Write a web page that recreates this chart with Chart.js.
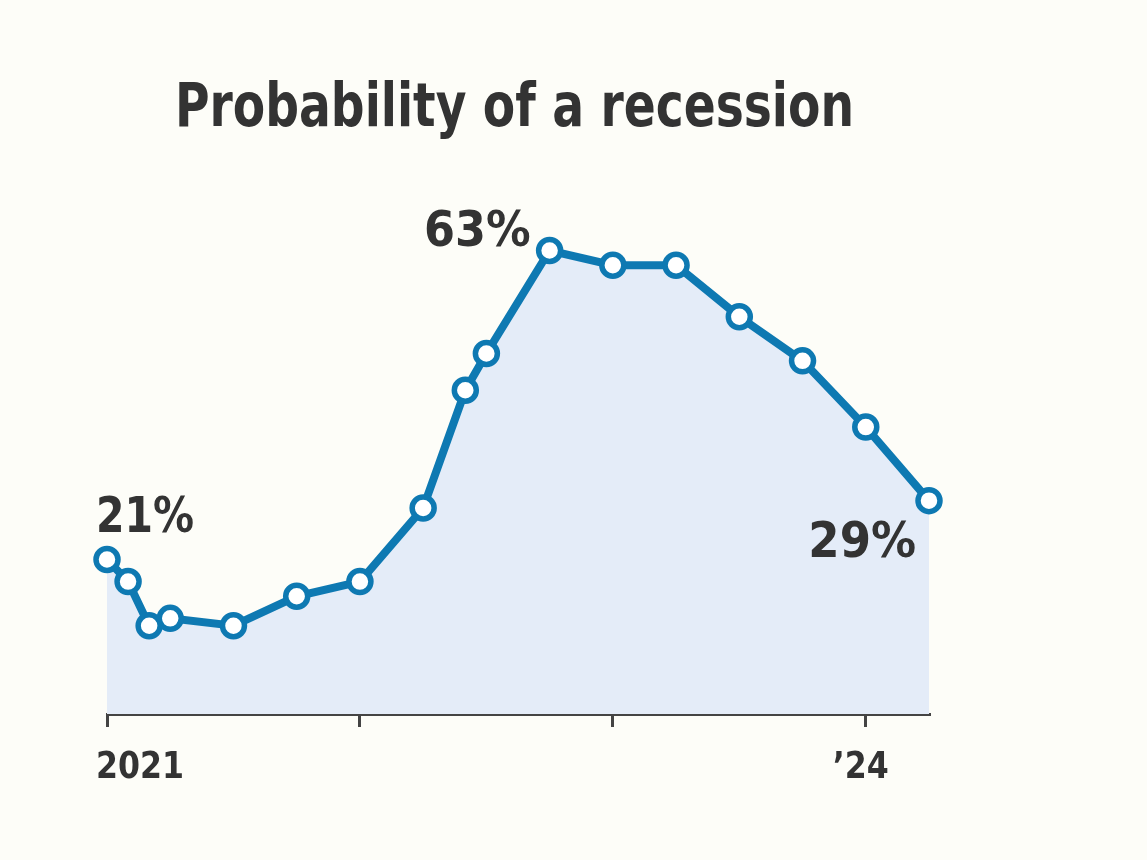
<!DOCTYPE html>
<html>
<head>
<meta charset="utf-8">
<title>Probability of a recession</title>
<script src="https://cdn.jsdelivr.net/npm/chart.js@4.4.1/dist/chart.umd.min.js"></script>
<style>
  html, body { margin: 0; padding: 0; background: #fdfdf8; }
  #wrap { width: 1147px; height: 860px; }
</style>
</head>
<body>
<div id="wrap"><canvas id="recessionChart"></canvas></div>
<script>
// Survey dates as fractional years, and probability in percent
const surveyDates = [
    2021 + 0/12, 2021 + 1/12, 2021 + 2/12, 2021 + 3/12, 2021 + 6/12, 2021 + 9/12,
    2022 + 0/12, 2022 + 3/12, 2022 + 5/12, 2022 + 6/12, 2022 + 9/12,
    2023 + 0/12, 2023 + 3/12, 2023 + 6/12, 2023 + 9/12,
    2024 + 0/12, 2024 + 3/12
];
const probability = [21, 18, 12, 13, 12, 16, 18, 28, 44, 49, 63, 61, 61, 54, 48, 39, 29];

const yearTicks = [2021, 2022, 2023, 2024];
const yearLabels = ['2021', '', '', '\u201924'];

// Point callouts: index into the series and label text
const calloutIndex = [0, 10, 16];
const calloutText = ['21%', '63%', '29%'];

const chartTitle = 'Probability of a recession';

const FONT = '"DejaVu Sans Condensed", "DejaVu Sans", sans-serif';
const INK = '#333333';
const BLUE = '#0e79b2';

// fillText squeezed horizontally to mimic the narrow newspaper face
function narrowText(ctx, text, x, y, align, squeeze) {
    const w = ctx.measureText(text).width * squeeze;
    let left = x;
    if (align === 'center') left = x - w / 2;
    if (align === 'right') left = x - w;
    ctx.save();
    ctx.translate(left, y);
    ctx.scale(squeeze, 1);
    ctx.textAlign = 'left';
    ctx.fillText(text, 0, 0);
    ctx.restore();
}

// Draws the title, the year labels under the axis and the % callouts
const labelPlugin = {
    id: 'labels',
    afterDatasetsDraw(chart) {
        const ctx = chart.ctx;
        const xScale = chart.scales.x;
        const points = chart.getDatasetMeta(0).data;
        ctx.save();
        ctx.fillStyle = INK;
        ctx.textBaseline = 'alphabetic';

        // title
        ctx.font = 'bold 60px ' + FONT;
        narrowText(ctx, chartTitle, 175, 126, 'left', 0.874);

        // year labels
        ctx.font = 'bold 38px ' + FONT;
        yearTicks.forEach((v, i) => {
            if (!yearLabels[i]) return;
            const px = xScale.getPixelForValue(v);
            if (i === 0) {
                narrowText(ctx, yearLabels[i], px - 11, 778, 'left', 0.925);
            } else {
                narrowText(ctx, yearLabels[i], px - 5, 778, 'center', 0.925);
            }
        });

        // callouts
        ctx.font = 'bold 50px ' + FONT;
        calloutIndex.forEach((idx, i) => {
            const p = points[idx];
            if (i === 0) {
                narrowText(ctx, calloutText[i], p.x - 11, p.y - 28, 'left', 0.91);
            } else if (i === 1) {
                narrowText(ctx, calloutText[i], p.x - 19, p.y - 5, 'right', 0.99);
            } else {
                narrowText(ctx, calloutText[i], p.x - 13, p.y + 56, 'right', 1.0);
            }
        });
        ctx.restore();
    }
};

function initializeChart() {
    const ctx = document.getElementById('recessionChart').getContext('2d');
    new Chart(ctx, {
        type: 'line',
        data: {
            datasets: [{
                label: 'Probability of a recession',
                data: surveyDates.map((d, i) => ({ x: d, y: probability[i] })),
                borderColor: BLUE,
                borderWidth: 8,
                backgroundColor: '#e4ecf8',
                fill: 'origin',
                tension: 0,
                pointRadius: 11,
                pointBorderWidth: 5.5,
                pointBackgroundColor: '#ffffff',
                pointBorderColor: BLUE,
                clip: false
            }]
        },
        options: {
            responsive: true,
            maintainAspectRatio: false,
            animation: false,
            layout: {
                padding: { left: 107, right: 218, top: 199, bottom: 0 }
            },
            plugins: {
                legend: { display: false },
                tooltip: { enabled: false },
                title: { display: false }
            },
            scales: {
                x: {
                    type: 'linear',
                    min: 2021,
                    max: 2024.25,
                    afterBuildTicks: scale => {
                        scale.ticks = yearTicks.map(v => ({ value: v }));
                    },
                    afterFit: scale => {
                        scale.height = 860 - 714;
                    },
                    ticks: { display: false },
                    grid: {
                        drawOnChartArea: false,
                        drawTicks: true,
                        tickLength: 13,
                        color: '#444444',
                        lineWidth: 3
                    },
                    border: { display: true, color: '#444444', width: 3 }
                },
                y: {
                    display: false,
                    min: 0,
                    max: 70
                }
            }
        },
        plugins: [labelPlugin]
    });
}

document.addEventListener('DOMContentLoaded', initializeChart);
</script>
</body>
</html>
